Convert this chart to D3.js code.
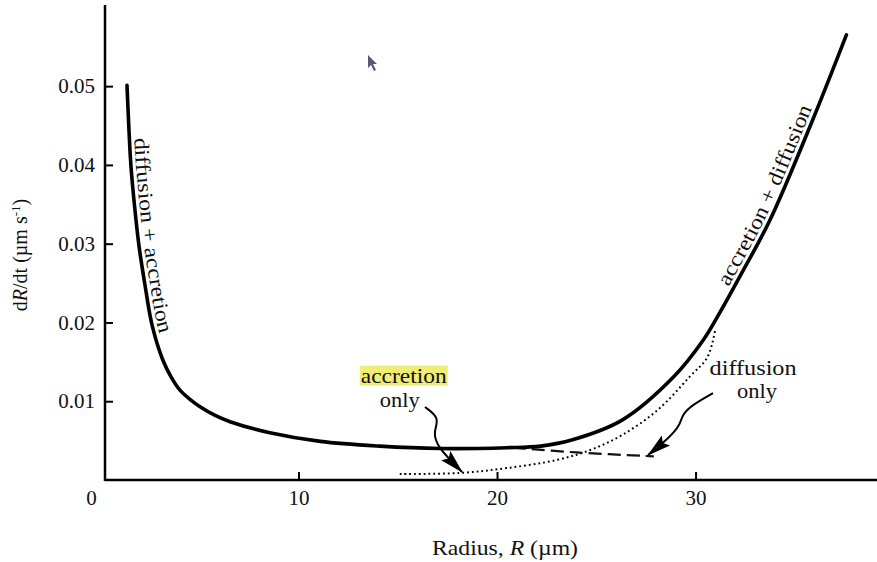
<!DOCTYPE html>
<html>
<head>
<meta charset="utf-8">
<script src="https://cdn.jsdelivr.net/npm/d3@7"></script>
<style>
  body { margin: 0; background: #fff; }
  svg { display: block; font-family: "Liberation Serif", "Times New Roman", serif; }
</style>
</head>
<body>
<div id="chart"></div>
<script>
// values: radius R (µm) against growth rate dR/dt (µm/s)
const totalR = [1.36, 1.46, 1.56, 1.76, 1.96, 2.27, 2.62, 3.17, 3.6, 4.03, 4.5, 5.04, 5.8, 6.55, 8.56, 11.1, 14.1, 17.1, 20.5, 22.2, 23.8, 26.3, 28.9, 30.4, 31.1, 32.4, 33.75, 35.9, 37.6];
const totalRate = [0.0501, 0.0444, 0.0398, 0.0343, 0.0298, 0.0247, 0.0197, 0.0152, 0.0130, 0.0114, 0.0103, 0.0093, 0.0082, 0.0074, 0.0060, 0.0049, 0.0043, 0.0040, 0.0041, 0.0043, 0.0051, 0.0076, 0.0131, 0.0178, 0.0207, 0.0266, 0.0330, 0.0457, 0.0565];

// diffusion only (dashed), where it leaves the total curve
const diffR = [20.8, 24.0, 27.9];
const diffRate = [0.0041, 0.0035, 0.0030];

// accretion only (dotted)
const accR = [15.1, 18.1, 20.5, 23.0, 24.7, 26.3, 28.1, 29.7, 30.6, 31.0];
const accRate = [0.00076, 0.00089, 0.00152, 0.00254, 0.00381, 0.00571, 0.0089, 0.0131, 0.0156, 0.0192];

const xTicks = [0, 10, 20, 30];
const yTicks = [0.01, 0.02, 0.03, 0.04, 0.05];

// annotation arrows, in data units
const accArrowR = [16.37, 17.13, 16.78, 16.98, 18.24];
const accArrowRate = [0.00926, 0.00786, 0.00609, 0.00419, 0.00102];
const diffArrowR = [30.88, 29.82, 29.32, 29.22, 28.72, 27.61];
const diffArrowRate = [0.01104, 0.00952, 0.00825, 0.00698, 0.00546, 0.00317];

const width = 877;
const height = 562;

const x = d3.scaleLinear().domain([0, 39]).range([100, 874.2]);
const y = d3.scaleLinear().domain([0, 0.0603]).range([480, 5]);
const axisX = 105; // the vertical axis sits just right of R = 0

const svg = d3.select('#chart')
  .append('svg')
  .attr('width', width)
  .attr('height', height);

const defs = svg.append('defs');
defs.append('marker')
  .attr('id', 'head')
  .attr('markerUnits', 'userSpaceOnUse')
  .attr('viewBox', '0 0 24 13')
  .attr('refX', 23)
  .attr('refY', 6.5)
  .attr('markerWidth', 24)
  .attr('markerHeight', 13)
  .attr('orient', 'auto')
  .append('path')
  .attr('d', 'M0,0 L24,6.5 L0,13 L4,6.5 Z')
  .attr('fill', '#000');

// axes
const gx = svg.append('g')
  .attr('transform', `translate(0,${y(0)})`)
  .call(d3.axisBottom(x).tickValues(xTicks).tickSize(-8).tickPadding(10).tickFormat(d3.format('d')));
gx.select('.domain').remove();
gx.selectAll('.tick line').attr('stroke-width', 2);
gx.selectAll('.tick').filter(d => d === 0).select('line').remove();
gx.selectAll('.tick').filter(d => d === 0).select('text').attr('x', -9);

const gy = svg.append('g')
  .attr('transform', `translate(${axisX},0)`)
  .call(d3.axisLeft(y).tickValues(yTicks).tickSize(-8).tickPadding(10).tickFormat(d3.format('.2f')));
gy.select('.domain').remove();
gy.selectAll('.tick line').attr('stroke-width', 2);

svg.selectAll('.tick text')
  .attr('font-size', 21)
  .attr('fill', '#111');
gx.attr('font-family', null).attr('font-size', null);
gy.attr('font-family', null).attr('font-size', null);

svg.append('line')
  .attr('x1', axisX).attr('x2', width)
  .attr('y1', y(0)).attr('y2', y(0))
  .attr('stroke', '#000').attr('stroke-width', 2.5);
svg.append('line')
  .attr('x1', axisX).attr('x2', axisX)
  .attr('y1', y(0) + 1).attr('y2', y.range()[1])
  .attr('stroke', '#000').attr('stroke-width', 2.5);

// axis titles
const xt = svg.append('text')
  .attr('x', 505).attr('y', 555)
  .attr('text-anchor', 'middle')
  .attr('font-size', 21).attr('fill', '#111')
  .attr('textLength', 146).attr('lengthAdjust', 'spacingAndGlyphs');
xt.append('tspan').text('Radius, ');
xt.append('tspan').attr('font-style', 'italic').text('R');
xt.append('tspan').text(' (\u00b5m)');

const yt = svg.append('text')
  .attr('transform', 'translate(27,255) rotate(-90)')
  .attr('text-anchor', 'middle')
  .attr('font-size', 20).attr('fill', '#111');
yt.append('tspan').text('d');
yt.append('tspan').attr('font-style', 'italic').text('R');
yt.append('tspan').text('/dt (\u00b5m s');
yt.append('tspan').attr('font-size', 13).attr('dy', -7).text('-1');
yt.append('tspan').attr('dy', 7).text(')');

// curves
const zip = (a, b) => a.map((v, i) => [v, b[i]]);
const line = d3.line()
  .x(d => x(d[0]))
  .y(d => y(d[1]))
  .curve(d3.curveCatmullRom.alpha(0.5));

svg.append('path')
  .attr('d', line(zip(accR, accRate)))
  .attr('fill', 'none')
  .attr('stroke', '#000')
  .attr('stroke-width', 2)
  .attr('stroke-dasharray', '1.8,3');

svg.append('path')
  .attr('d', line(zip(diffR, diffRate)))
  .attr('fill', 'none')
  .attr('stroke', '#111')
  .attr('stroke-width', 2.2)
  .attr('stroke-dasharray', '13,6');

svg.append('path')
  .attr('d', line(zip(totalR, totalRate)))
  .attr('fill', 'none')
  .attr('stroke', '#000')
  .attr('stroke-width', 3.6)
  .attr('stroke-linecap', 'round');

// labels that run along the curve: offset a copy of it sideways
function offsetPath(rs, rates, dist) {
  const pts = rs.map((r, i) => [x(r), y(rates[i])]);
  const out = pts.map((p, i) => {
    const a = pts[Math.max(i - 1, 0)];
    const b = pts[Math.min(i + 1, pts.length - 1)];
    const dx = b[0] - a[0];
    const dy = b[1] - a[1];
    const len = Math.hypot(dx, dy);
    return [p[0] + dist * dy / len, p[1] - dist * dx / len];
  });
  return d3.line().curve(d3.curveCatmullRom.alpha(0.5))(out);
}

defs.append('path')
  .attr('id', 'leftLabel')
  .attr('d', offsetPath(totalR.slice(0, 14), totalRate.slice(0, 14), 5));
defs.append('path')
  .attr('id', 'rightLabel')
  .attr('d', offsetPath(totalR.slice(23), totalRate.slice(23), 5));

svg.append('text')
  .attr('font-size', 21).attr('fill', '#111')
  .append('textPath')
  .attr('href', '#leftLabel')
  .attr('startOffset', 53)
  .attr('textLength', 198)
  .attr('lengthAdjust', 'spacingAndGlyphs')
  .text('diffusion + accretion');

svg.append('text')
  .attr('font-size', 21).attr('fill', '#111')
  .append('textPath')
  .attr('href', '#rightLabel')
  .attr('startOffset', 58)
  .attr('textLength', 198)
  .attr('lengthAdjust', 'spacingAndGlyphs')
  .text('accretion + diffusion');

// annotation arrows
const arrow = d3.line()
  .x(d => x(d[0]))
  .y(d => y(d[1]))
  .curve(d3.curveBasis);

svg.append('path')
  .attr('d', arrow(zip(accArrowR, accArrowRate)))
  .attr('fill', 'none')
  .attr('stroke', '#000')
  .attr('stroke-width', 2)
  .attr('marker-end', 'url(#head)');

svg.append('path')
  .attr('d', arrow(zip(diffArrowR, diffArrowRate)))
  .attr('fill', 'none')
  .attr('stroke', '#000')
  .attr('stroke-width', 2)
  .attr('marker-end', 'url(#head)');

// annotation text
function note(r, rate, str, len) {
  return svg.append('text')
    .attr('x', x(r)).attr('y', y(rate))
    .attr('text-anchor', 'middle')
    .attr('dominant-baseline', 'central')
    .attr('font-size', 22).attr('fill', '#111')
    .attr('textLength', len)
    .attr('lengthAdjust', 'spacingAndGlyphs')
    .text(str);
}

const hl = svg.append('rect').attr('fill', '#efed74');
const accText = note(15.3, 0.0133, 'accretion', 86);
const bb = accText.node().getBBox();
hl.attr('x', bb.x - 1).attr('y', bb.y + 3).attr('width', bb.width + 2).attr('height', bb.height - 5);
note(15.1, 0.0102, 'only', 40);
note(32.9, 0.0143, 'diffusion', 87);
note(33.1, 0.0113, 'only', 40);

// stray mouse pointer in the screenshot
svg.append('path')
  .attr('transform', 'translate(368,55)')
  .attr('d', 'M0,0 L0,13 L3,10 L6,16 L8,15 L5,9 L9,9 Z')
  .attr('fill', '#2b2f5a')
  .attr('opacity', 0.8);
</script>
</body>
</html>
